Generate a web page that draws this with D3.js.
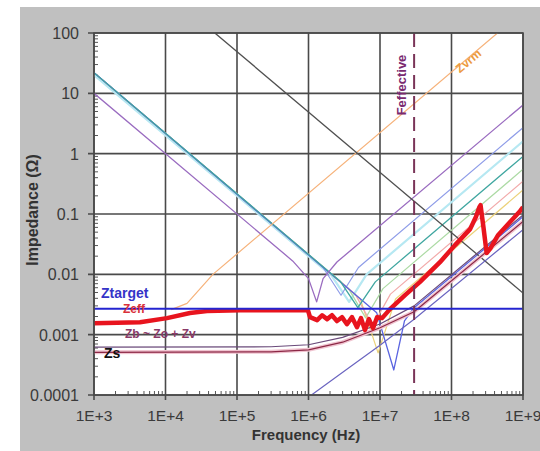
<!DOCTYPE html>
<html>
<head>
<meta charset="utf-8">
<script src="https://cdn.jsdelivr.net/npm/d3@7/dist/d3.min.js"></script>
<style>
  body { margin: 0; background: #fff; }
  text { font-family: "Liberation Sans", Arial, sans-serif; }
</style>
</head>
<body>
<div id="chart"></div>
<script>
// axis ticks
var freqTicks = [1e3, 1e4, 1e5, 1e6, 1e7, 1e8, 1e9];
var freqTickLabels = ["1E+3", "1E+4", "1E+5", "1E+6", "1E+7", "1E+8", "1E+9"];
var zTicks = [0.0001, 0.001, 0.01, 0.1, 1, 10, 100];
var zTickLabels = ["0.0001", "0.001", "0.01", "0.1", "1", "10", "100"];

// target impedance and effective frequency
var zTargetFreq = [1e3, 1e9];
var zTargetZ = [0.0027, 0.0027];
var fEffective = 3e7;

// Zeff (thick red)
var zeffFreq = [1e3, 4.4e3, 1.05e4, 2.2e4, 3.8e4, 1.1e5, 9.8e5, 1.05e6, 1.32e6, 1.55e6, 1.82e6, 2.13e6, 2.5e6, 2.94e6,
  3.45e6, 4.06e6, 4.77e6, 5.42e6, 6.17e6, 7.0e6, 7.98e6, 9.1e6, 1.07e7, 1.38e7, 2.24e7, 3.6e7, 6.9e7, 1.12e8,
  1.82e8, 2.2e8, 2.45e8, 2.55e8, 2.8e8, 3.1e8, 3.5e8, 4.5e8, 9e8, 1e9];
var zeffZ = [0.00155, 0.00161, 0.00188, 0.00228, 0.00246, 0.00255, 0.00255, 0.00195, 0.00174, 0.0021, 0.00181, 0.0021,
  0.00168, 0.00195, 0.00149, 0.00195, 0.00133, 0.00188, 0.00119, 0.00181, 0.00128, 0.00195, 0.00188, 0.00265,
  0.00452, 0.00743, 0.0159, 0.0305, 0.0562, 0.09, 0.13, 0.14, 0.06, 0.0225, 0.027, 0.045, 0.11, 0.13];

// VRM inductance line and plane capacitance line
var zvrmFreq = [1.2e4, 2e4, 4.6e4, 4.4e8];
var zvrmZ = [0.0026, 0.0033, 0.01, 100];
var zPlaneFreq = [4.9e4, 1e9];
var zPlaneZ = [100, 0.0049];

// bulk capacitor
var zbFreq = [1e3, 6e5, 1.0e6, 1.3e6, 1.6e6, 2.5e6, 1e9];
var zbZ = [10, 0.0167, 0.0085, 0.0035, 0.0085, 0.016, 6.4];

// decoupling capacitors
var capBlueFreq = [1e3, 1.6e6, 2.85e6, 5e6, 1e9];
var capBlueZ = [22, 0.013, 0.0045, 0.013, 2.7];
var capCyanFreq = [1e3, 2.1e6, 3.7e6, 6.5e6, 1e9];
var capCyanZ = [20, 0.0095, 0.0035, 0.010, 1.6];
var capTealFreq = [1e3, 2.8e6, 4.9e6, 8.6e6, 1e9];
var capTealZ = [22, 0.0076, 0.0028, 0.0075, 0.9];
var capGreenFreq = [1e3, 3.6e6, 6.3e6, 1.1e7, 1e9];
var capGreenZ = [22, 0.0059, 0.0019, 0.0058, 0.55];
var capPinkFreq = [1e3, 4.5e6, 7.9e6, 1.4e7, 1e9];
var capPinkZ = [22, 0.0047, 0.0014, 0.0047, 0.35];
var capYellowFreq = [1e3, 5.3e6, 9.4e6, 1.65e7, 1e9];
var capYellowZ = [22, 0.0039, 0.0005, 0.0039, 0.25];
var capDeepFreq = [1e3, 9e6, 1.56e7, 2.2e7, 3e7, 1e9];
var capDeepZ = [22, 0.0023, 0.00026, 0.0017, 0.0028, 0.09];

// low level lines
var zoFreq = [1e3, 3e5, 1e6, 3e6, 1e7, 3e7, 1e9];
var zoZ = [0.00062, 0.00063, 0.00068, 0.0009, 0.0015, 0.003, 0.096];
var zsFreq = [1e3, 3e5, 1e6, 3e6, 1e7, 3e7, 1e9];
var zsZ = [0.00051, 0.00052, 0.00056, 0.00075, 0.0013, 0.0024, 0.075];
var zvFreq = [1.1e6, 3.8e6, 1e7, 3e7, 1e9];
var zvZ = [0.0001, 0.00029, 0.00067, 0.0018, 0.055];

function pairs(f, z) {
  return f.map(function(d, i) { return [d, z[i]]; });
}

var svg = d3.select("#chart").append("svg")
  .attr("width", 540)
  .attr("height", 451);

var plotLeft = 94, plotRight = 523, plotTop = 33, plotBottom = 395;

var x = d3.scaleLog().domain([1e3, 1e9]).range([plotLeft, plotRight]);
var y = d3.scaleLog().domain([1e-4, 100]).range([plotBottom, plotTop]);

// background panel and plot area
svg.append("rect").attr("x", 20).attr("y", 7).attr("width", 520).attr("height", 444).attr("fill", "#c0c0c0");
svg.append("rect").attr("x", plotLeft).attr("y", plotTop)
  .attr("width", plotRight - plotLeft).attr("height", plotBottom - plotTop).attr("fill", "#fff");

svg.append("clipPath").attr("id", "plot")
  .append("rect").attr("x", plotLeft).attr("y", plotTop)
  .attr("width", plotRight - plotLeft).attr("height", plotBottom - plotTop);

// minor ticks inside the axes
var minorF = [], minorZ = [];
freqTicks.slice(0, -1).forEach(function(t) { for (var k = 2; k < 10; k++) minorF.push(t * k); });
zTicks.slice(0, -1).forEach(function(t) { for (var k = 2; k < 10; k++) minorZ.push(t * k); });

svg.append("g").selectAll("line").data(minorF).enter().append("line")
  .attr("x1", d => x(d)).attr("x2", d => x(d))
  .attr("y1", plotBottom).attr("y2", plotBottom - 4)
  .attr("stroke", "#555").attr("stroke-width", 1);
svg.append("g").selectAll("line").data(minorZ).enter().append("line")
  .attr("x1", plotLeft).attr("x2", plotLeft + 4)
  .attr("y1", d => y(d)).attr("y2", d => y(d))
  .attr("stroke", "#555").attr("stroke-width", 1);

// major grid
svg.append("g").selectAll("line").data(freqTicks).enter().append("line")
  .attr("x1", d => x(d)).attr("x2", d => x(d))
  .attr("y1", plotTop).attr("y2", plotBottom + 5)
  .attr("stroke", "#4a4a4a").attr("stroke-width", 1.6);
svg.append("g").selectAll("line").data(zTicks).enter().append("line")
  .attr("x1", plotLeft - 6).attr("x2", plotRight)
  .attr("y1", d => y(d)).attr("y2", d => y(d))
  .attr("stroke", "#4a4a4a").attr("stroke-width", 1.6);

// curves
var line = d3.line().x(d => x(d[0])).y(d => y(d[1]));
var curves = svg.append("g").attr("clip-path", "url(#plot)");

function draw(f, z, color, width, dash) {
  curves.append("path")
    .datum(pairs(f, z))
    .attr("d", line)
    .attr("fill", "none")
    .attr("stroke", color)
    .attr("stroke-width", width)
    .attr("stroke-dasharray", dash || null)
    .attr("stroke-linejoin", "round");
}

draw(capCyanFreq, capCyanZ, "#b6e8f2", 2.2);
draw(capGreenFreq, capGreenZ, "#acdaa4", 1.2);
draw(capYellowFreq, capYellowZ, "#ecd27a", 1.2);
draw(capPinkFreq, capPinkZ, "#f2aaaa", 1.2);
draw(capBlueFreq, capBlueZ, "#8e9ce8", 1.2);
draw(capDeepFreq, capDeepZ, "#5a64e0", 1.3);
draw(capTealFreq, capTealZ, "#3fa6a0", 1.3);
draw(zvrmFreq, zvrmZ, "#f6b27a", 1.2);
draw(zbFreq, zbZ, "#9a6cc0", 1.3);
draw(zPlaneFreq, zPlaneZ, "#505050", 1.3);
draw(zvFreq, zvZ, "#6a64c0", 1.2);
draw(zsFreq, zsZ, "#f0c4d0", 4);
draw(zsFreq, zsZ, "#8c2846", 1.2);
draw(zoFreq, zoZ, "#6a4a7a", 1.2);
draw(zeffFreq, zeffZ, "#e8141e", 4.5);
draw(zTargetFreq, zTargetZ, "#2424d0", 2);

// effective frequency marker
svg.append("line")
  .attr("x1", x(fEffective)).attr("x2", x(fEffective))
  .attr("y1", plotTop).attr("y2", plotBottom)
  .attr("stroke", "#7a3458").attr("stroke-width", 2)
  .attr("stroke-dasharray", "14,7");

// plot border
svg.append("rect").attr("x", plotLeft).attr("y", plotTop)
  .attr("width", plotRight - plotLeft).attr("height", plotBottom - plotTop)
  .attr("fill", "none").attr("stroke", "#4a4a4a").attr("stroke-width", 1.6);

// tick labels
svg.append("g").selectAll("text").data(freqTicks).enter().append("text")
  .attr("x", d => x(d)).attr("y", 421)
  .attr("text-anchor", "middle")
  .attr("font-size", 15.5).attr("fill", "#3a3a3a")
  .text((d, i) => freqTickLabels[i]);
svg.append("g").selectAll("text").data(zTicks).enter().append("text")
  .attr("x", 79).attr("y", d => y(d) + 6)
  .attr("text-anchor", "end")
  .attr("font-size", 16).attr("fill", "#3a3a3a")
  .text((d, i) => zTickLabels[i]);

// axis titles
svg.append("text")
  .attr("x", 306).attr("y", 440)
  .attr("text-anchor", "middle")
  .attr("font-size", 15).attr("font-weight", "bold").attr("fill", "#333")
  .text("Frequency (Hz)");
svg.append("text")
  .attr("transform", "translate(38,210) rotate(-90)")
  .attr("text-anchor", "middle")
  .attr("font-size", 16).attr("font-weight", "bold").attr("fill", "#333")
  .text("Impedance (Ω)");

// curve labels
svg.append("text").attr("x", 101).attr("y", 298)
  .attr("font-size", 14).attr("font-weight", "bold").attr("fill", "#3434c8")
  .text("Ztarget");
svg.append("text").attr("x", 123).attr("y", 313)
  .attr("font-size", 12).attr("font-weight", "bold").attr("fill", "#d8303a")
  .text("Zeff");
svg.append("text").attr("x", 125).attr("y", 338)
  .attr("font-size", 12).attr("font-weight", "bold").attr("fill", "#8a3a68")
  .text("Zb ~ Zo + Zv");
svg.append("text").attr("x", 104).attr("y", 358)
  .attr("font-size", 14).attr("font-weight", "bold").attr("fill", "#111")
  .text("Zs");
svg.append("text")
  .attr("transform", "translate(406,85) rotate(-90)")
  .attr("text-anchor", "middle")
  .attr("font-size", 13).attr("font-weight", "bold").attr("fill", "#7a2a70")
  .text("Feffective");
svg.append("text")
  .attr("transform", "translate(471,64) rotate(-40)")
  .attr("text-anchor", "middle")
  .attr("font-size", 12).attr("font-weight", "bold").attr("fill", "#ec9a40")
  .text("Zvrm");
</script>
</body>
</html>
